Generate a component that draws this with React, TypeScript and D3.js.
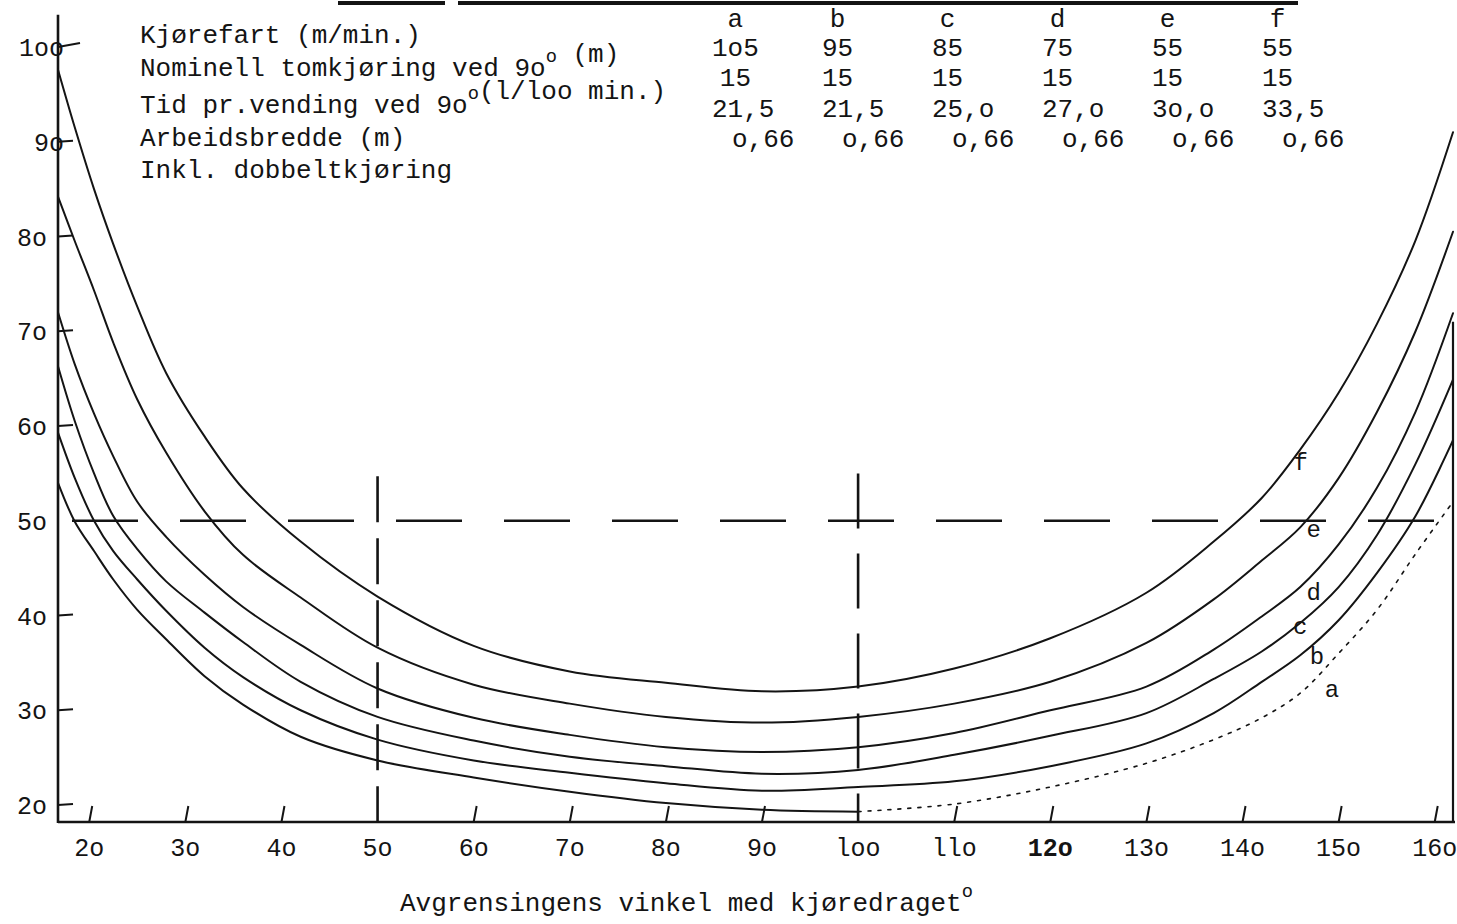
import React from 'react'
import * as d3 from 'd3'

// angle of the boundary against the driving direction (degrees)
const angles = [16.75, 18.5, 20.5, 22.5, 25, 28, 32, 36, 42, 50, 60, 70, 80, 90, 100, 110, 120, 130, 137, 142, 146, 150, 154, 158, 161.9]

// time per unit, one list per driving speed a..f
const curveA = [54, 49.9, 46.8, 43.8, 40.6, 37.5, 33.6, 30.6, 27.2, 24.7, 22.9, 21.4, 20.2, 19.5, 19.3, 20.1, 21.9, 24.4, 26.9, 29.2, 31.8, 36, 40.6, 46.5, 52]
const curveB = [59.3, 54.5, 50, 46.8, 43.8, 40.5, 36.6, 33.5, 30, 26.9, 24.7, 23.4, 22.3, 21.5, 21.9, 22.5, 24.1, 26.5, 29.7, 33, 35.8, 39.5, 44.5, 50.5, 58.5]
const curveC = [66.3, 60.5, 55, 50.5, 47, 43.6, 40.3, 37.2, 33, 29.3, 26.8, 25.1, 24.1, 23.3, 23.7, 25.3, 27.3, 29.7, 33.3, 36.2, 39.2, 43, 48.5, 56, 64.9]
const curveD = [72, 66.5, 61.3, 56.8, 52, 48.3, 44.3, 40.9, 36.9, 32.3, 29.2, 27.4, 26.1, 25.6, 26.1, 27.6, 30, 32.5, 36.4, 39.9, 43, 47.5, 53.5, 61.5, 71.9]
const curveE = [84.2, 79.5, 74.3, 68.8, 62.8, 57.2, 51, 46.4, 41.9, 36.6, 32.7, 30.7, 29.3, 28.7, 29.3, 30.7, 33, 37.1, 41.7, 45.8, 49.3, 54.5, 61.5, 70, 80.5]
const curveF = [97.6, 91.5, 85, 79.2, 72.6, 65.6, 58.9, 53.4, 47.8, 42, 36.8, 34.1, 32.9, 32, 32.5, 34.4, 37.6, 42.4, 47.8, 52.4, 57.5, 63.5, 70.8, 79.6, 91]

const seriesNames = ['a', 'b', 'c', 'd', 'e', 'f']

const xTicks = [20, 30, 40, 50, 60, 70, 80, 90, 100, 110, 120, 130, 140, 150, 160]
const xTickLabels = ['2o', '3o', '4o', '5o', '6o', '7o', '8o', '9o', 'loo', 'llo', '12o', '13o', '14o', '15o', '16o']
const yTicks = [20, 30, 40, 50, 60, 70, 80, 90, 100]
const yTickLabels = ['2o', '3o', '4o', '5o', '6o', '7o', '8o', '9o', '1oo']

const rowLabels = ['Kjørefart (m/min.)', 'Nominell tomkjøring ved 9o° (m)', 'Tid pr.vending ved 9o°(l/loo min.)', 'Arbeidsbredde (m)', 'Inkl. dobbeltkjøring']
const speed = ['1o5', '95', '85', '75', '55', '55']
const nominal = ['15', '15', '15', '15', '15', '15']
const turnTime = ['21,5', '21,5', '25,o', '27,o', '3o,o', '33,5']
const workWidth = ['o,66', 'o,66', 'o,66', 'o,66', 'o,66', 'o,66']

const xTitle = 'Avgrensingens vinkel med kjøredraget°'

const font = '"Liberation Mono", "DejaVu Sans Mono", monospace'
const ink = '#141414'

// renders "°" as a raised small o, like the typewriter did
function Typed({ text, size }) {
  const parts = text.split('°')
  return (
    <>
      {parts.map((p, i) => (
        <React.Fragment key={i}>
          <tspan>{p}</tspan>
          {i < parts.length - 1 && <tspan dy={-size * 0.55} fontSize={size * 0.72}>o</tspan>}
          {i < parts.length - 1 && <tspan dy={size * 0.55} fontSize={size}>{''}</tspan>}
        </React.Fragment>
      ))}
    </>
  )
}

export default function App() {
  const width = 1457
  const height = 924
  const x = d3.scaleLinear().domain([16.75, 161.9]).range([58, 1453])
  const y = d3.scaleLinear().domain([20, 100]).range([805, 47])
  const line = d3.line().x(d => x(d[0])).y(d => y(d[1])).curve(d3.curveCatmullRom.alpha(0.5))

  const series = [curveA, curveB, curveC, curveD, curveE, curveF]
  const pts = series.map(vals => angles.map((a, i) => [a, vals[i]]))
  // curve a fades into a dotted trace right of 100 degrees
  const aSolid = pts[0].filter(p => p[0] <= 100)
  const aDotted = pts[0].filter(p => p[0] >= 100)

  const baseY = y(18.2)
  const topY = y(103.4)
  const leftX = x(16.75)
  const rightX = x(161.9)

  const col = d3.scalePoint().domain(seriesNames).range([712, 1262])
  const fs = 26
  const cw = fs * 0.6

  // where the letters a..f sit beside their curves [deg, value]
  const labelAt = [[149.3, 31.4], [147.75, 34.9], [146, 38.05], [147.4, 41.6], [147.4, 48.3], [146.05, 55.4]]

  return (
    <svg width={width} height={height} style={{ position: 'absolute', left: 0, top: 0, background: '#fff' }} fontFamily={font} fill={ink}>
      <rect x={0} y={0} width={width} height={height} fill="#fff" />

      {/* cut-off underline at the very top */}
      <line x1={338} x2={445} y1={3} y2={3} stroke={ink} strokeWidth={4} />
      <line x1={458} x2={1298} y1={3} y2={3} stroke={ink} strokeWidth={4} />

      {/* table of conditions */}
      {rowLabels.map((r, i) => (
        <text key={r} x={140} y={[43, 76, 113, 146, 178][i]} fontSize={fs}>
          <Typed text={r} size={fs} />
        </text>
      ))}
      {seriesNames.map((n, i) => {
        const cx = col(n)
        const mid = cx + (speed[i].length * cw) / 2
        return (
          <g key={n} fontSize={fs}>
            <text x={mid} y={27} textAnchor="middle">{n}</text>
            <text x={cx} y={56}>{speed[i]}</text>
            <text x={mid} y={86} textAnchor="middle">{nominal[i]}</text>
            <text x={cx} y={117}>{turnTime[i]}</text>
            <text x={cx + 20} y={147}>{workWidth[i]}</text>
          </g>
        )
      })}

      {/* frame */}
      <line x1={leftX} x2={leftX} y1={topY} y2={baseY + 1} stroke={ink} strokeWidth={2.6} />
      <line x1={leftX} x2={rightX + 2} y1={baseY} y2={baseY} stroke={ink} strokeWidth={2.6} />
      <line x1={rightX} x2={rightX} y1={y(71)} y2={baseY} stroke={ink} strokeWidth={2.2} />

      {/* y ticks and labels */}
      {yTicks.map((t, i) => (
        <g key={t}>
          {t !== 50 && (
            <line x1={leftX} x2={leftX + (t === 100 ? 22 : 15)} y1={y(t)} y2={y(t) - (t === 100 ? 4 : 1)} stroke={ink} strokeWidth={2.2} />
          )}
          <text x={t >= 90 ? 64 : 47} y={y(t) + 9} fontSize={25} textAnchor="end">{yTickLabels[i]}</text>
        </g>
      ))}

      {/* x ticks and labels */}
      {xTicks.map((t, i) => (
        <g key={t}>
          {t !== 50 && t !== 100 && (
            <line x1={x(t)} x2={x(t) + 3} y1={baseY} y2={baseY - 16} stroke={ink} strokeWidth={2} />
          )}
          <text x={x(t)} y={856} fontSize={25} textAnchor="middle" fontWeight={t === 120 ? 'bold' : 'normal'}>{xTickLabels[i]}</text>
        </g>
      ))}

      {/* reference lines */}
      <line x1={leftX} x2={rightX} y1={y(50)} y2={y(50)} stroke={ink} strokeWidth={2.6} strokeDasharray="66 42" strokeDashoffset={-14} />
      <line x1={x(50)} x2={x(50)} y1={y(54.7)} y2={baseY} stroke={ink} strokeWidth={2.6} strokeDasharray="46 16" />
      <line x1={x(100)} x2={x(100)} y1={y(55)} y2={baseY} stroke={ink} strokeWidth={2.6} strokeDasharray="55 25" />

      {/* curves */}
      <g fill="none" stroke={ink} strokeWidth={2} strokeLinecap="round">
        <path d={line(aSolid)} />
        <path d={line(aDotted)} strokeWidth={1.6} strokeDasharray="3 7" />
        {pts.slice(1).map((p, i) => (
          <path key={seriesNames[i + 1]} d={line(p)} />
        ))}
      </g>

      {/* curve letters */}
      {seriesNames.map((n, i) => (
        <text key={n} x={x(labelAt[i][0])} y={y(labelAt[i][1])} fontSize={24} textAnchor="middle">{n}</text>
      ))}

      {/* x title */}
      <text x={400} y={911} fontSize={fs}>
        <Typed text={xTitle} size={fs} />
      </text>
    </svg>
  )
}
